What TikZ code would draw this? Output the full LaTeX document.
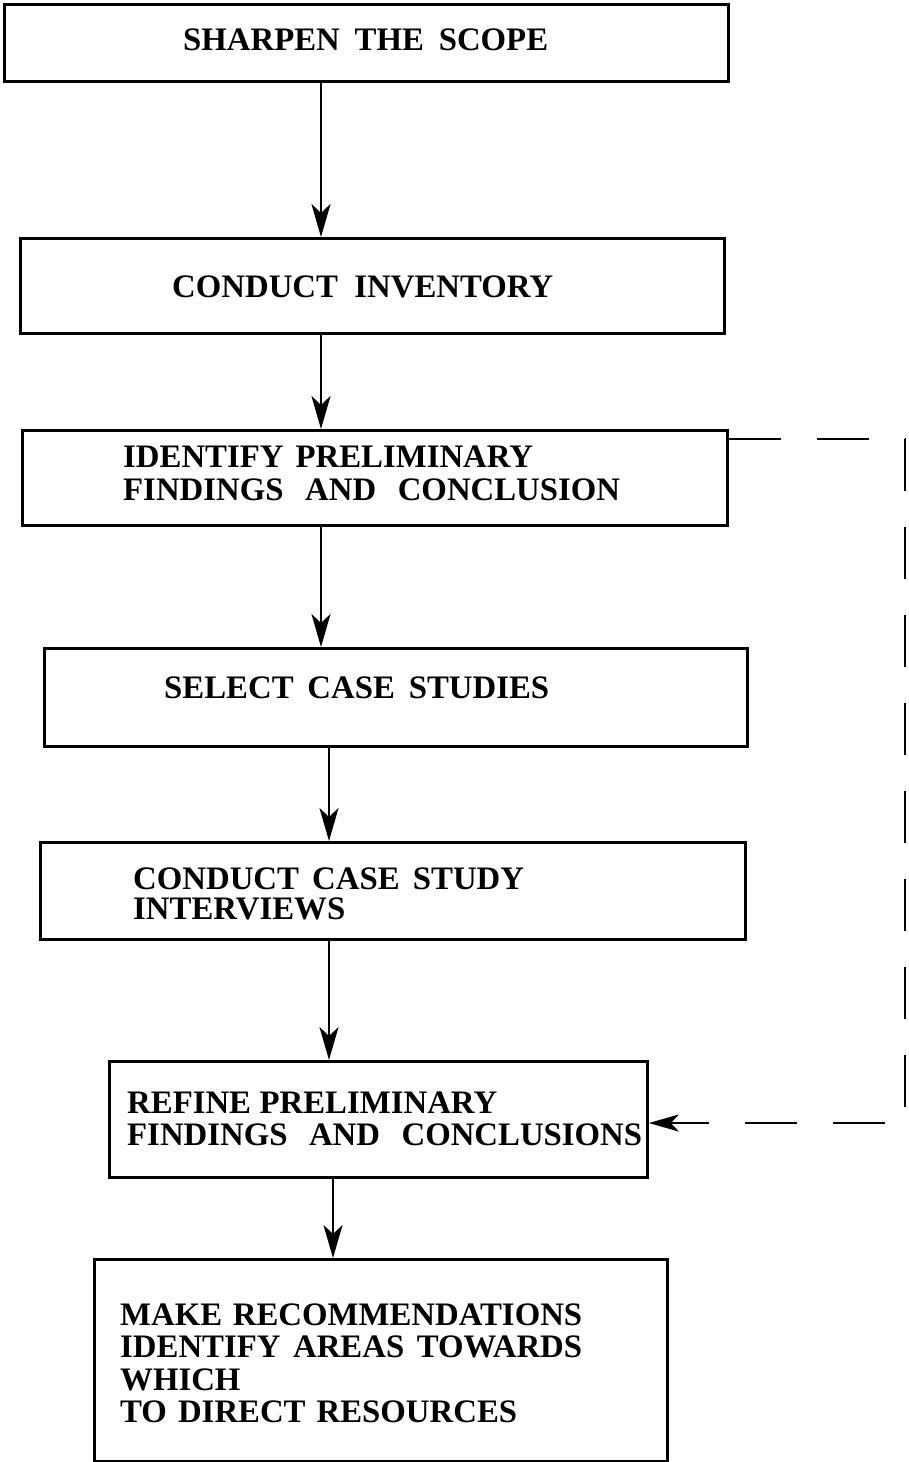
\documentclass[tikz,border=0pt]{standalone}
\usepackage{fontspec}
\setmainfont{Liberation Serif}
\usetikzlibrary{arrows.meta}
\begin{document}
\begin{tikzpicture}[x=1pt,y=-1pt,
  box/.style={draw, line width=2.8pt, rectangle, inner sep=0pt, anchor=north west},
  lbl/.style={anchor=base west, inner sep=0pt, font=\fontsize{32.8}{32}\selectfont\bfseries},
  flow/.style={line width=2.8pt, -{Stealth[length=33pt,width=19pt,inset=9pt]}},
  feedback/.style={line width=2.8pt, dash pattern=on 52pt off 36pt, -{Stealth[length=30pt,width=17pt,inset=8pt]}}]
\useasboundingbox (0,0) rectangle (909,1462);

% boxes
\node[box, minimum width=724pt, minimum height=77pt]  (b1) at (3,3) {};
\node[box, minimum width=704pt, minimum height=95pt]  (b2) at (19,237) {};
\node[box, minimum width=705pt, minimum height=95pt]  (b3) at (21,429) {};
\node[box, minimum width=703pt, minimum height=98pt]  (b4) at (43,647) {};
\node[box, minimum width=705pt, minimum height=97pt]  (b5) at (39,841) {};
\node[box, minimum width=538pt, minimum height=116pt] (b6) at (108,1060) {};
\node[box, minimum width=573pt, minimum height=202pt] (b7) at (93,1258) {};

% texts
\node[lbl] (t1)  at (183,50)   {\makebox[365pt][s]{SHARPEN THE SCOPE}};
\node[lbl] (t2)  at (172,297)  {\makebox[381pt][s]{CONDUCT INVENTORY}};
\node[lbl] (t3a) at (123,467)  {\makebox[410pt][s]{IDENTIFY PRELIMINARY}};
\node[lbl] (t3b) at (123,500)  {\makebox[497pt][s]{FINDINGS AND CONCLUSION}};
\node[lbl] (t4)  at (164,698)  {\makebox[385pt][s]{SELECT CASE STUDIES}};
\node[lbl] (t5a) at (133,889)  {\makebox[391pt][s]{CONDUCT CASE STUDY}};
\node[lbl] (t5b) at (133,919)  {INTERVIEWS};
\node[lbl] (t6a) at (127,1113) {\makebox[370pt][s]{REFINE PRELIMINARY}};
\node[lbl] (t6b) at (127,1145) {\makebox[515pt][s]{FINDINGS AND CONCLUSIONS}};
\node[lbl] (t7a) at (120,1325) {\makebox[462pt][s]{MAKE RECOMMENDATIONS}};
\node[lbl] (t7b) at (120,1357) {\makebox[462pt][s]{IDENTIFY AREAS TOWARDS}};
\node[lbl] (t7c) at (120,1390) {WHICH};
\node[lbl] (t7d) at (120,1422) {\makebox[397pt][s]{TO DIRECT RESOURCES}};

% arrow columns
\coordinate (xa) at (321,0);
\coordinate (xb) at (329,0);
\coordinate (xc) at (333,0);
\draw[flow] (b1.south -| xa) -- (b2.north -| xa);
\draw[flow] (b2.south -| xa) -- (b3.north -| xa);
\draw[flow] (b3.south -| xa) -- (b4.north -| xa);
\draw[flow] (b4.south -| xb) -- (b5.north -| xb);
\draw[flow] (b5.south -| xb) -- (b6.north -| xb);
\draw[flow] (b6.south -| xc) -- (b7.north -| xc);

% feedback loop
\coordinate (fa) at (905,439);
\coordinate (fb) at (905,1123);
\draw[feedback] (b3.east |- fa) -- (fa) -- (fb) -- (b6.east |- fb);
\end{tikzpicture}
\end{document}
